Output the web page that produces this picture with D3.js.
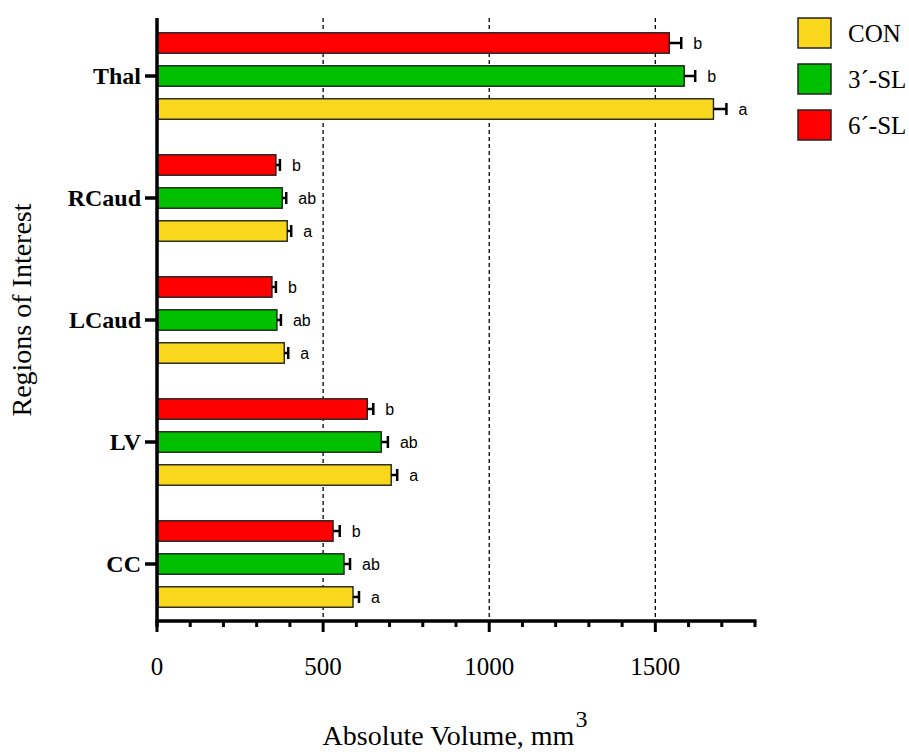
<!DOCTYPE html>
<html>
<head>
<meta charset="utf-8">
<script src="https://cdn.jsdelivr.net/npm/d3@7"></script>
<style>
  body { margin: 0; background: #fff; }
  svg { display: block; }
</style>
</head>
<body>
<svg class="visual" width="909" height="752"></svg>
<script>
// regions, listed bottom to top as on the chart
const REGIONS = ['CC', 'LV', 'LCaud', 'RCaud', 'Thal'];
// series in the order they appear inside a group, top to bottom
const SERIES = ['6´-SL', '3´-SL', 'CON'];
const LEGEND_ORDER = ['CON', '3´-SL', '6´-SL'];
const COLORS = ['#ff0000', '#00c000', '#f9d71c'];

const CON_VALUES = [590, 705, 383, 392, 1675];
const CON_ERRORS = [18, 18, 12, 12, 39];
const SL3_VALUES = [563, 675, 361, 377, 1587];
const SL3_ERRORS = [18, 20, 12, 12, 33];
const SL6_VALUES = [530, 633, 346, 358, 1542];
const SL6_ERRORS = [20, 18, 12, 12, 36];

const CON_LETTERS = ['a', 'a', 'a', 'a', 'a'];
const SL3_LETTERS = ['ab', 'ab', 'ab', 'ab', 'b'];
const SL6_LETTERS = ['b', 'b', 'b', 'b', 'b'];

const X_TICKS = [0, 500, 1000, 1500];
const X_MINOR = d3.range(0, 1801, 100);
const GRID = [500, 1000, 1500];

const valuesBySeries = {
    'CON': { v: CON_VALUES, e: CON_ERRORS, l: CON_LETTERS },
    '3´-SL': { v: SL3_VALUES, e: SL3_ERRORS, l: SL3_LETTERS },
    '6´-SL': { v: SL6_VALUES, e: SL6_ERRORS, l: SL6_LETTERS },
};

const rows = [];
REGIONS.forEach((region, i) => {
    SERIES.forEach(s => {
        const d = valuesBySeries[s];
        rows.push({ region: region, series: s, value: d.v[i], err: d.e[i], letter: d.l[i] });
    });
});

const svg = d3.select('svg');
const plotLeft = 157, plotRight = 755, plotTop = 15, plotBottom = 623;

const x = d3.scaleLinear().domain([0, 1800]).range([plotLeft, plotRight]);
const y = d3.scaleBand().domain(REGIONS).range([plotBottom + 2, plotTop]);
const inner = d3.scaleBand().domain(SERIES).range([-49.5, 49.5]).paddingInner(0.38).paddingOuter(0.19);
const color = d3.scaleOrdinal().domain(SERIES).range(COLORS);

const serif = "'Liberation Serif', 'Times New Roman', serif";
const sans = "'Liberation Sans', Arial, sans-serif";

// dashed reference lines
svg.append('g')
    .selectAll('line')
    .data(GRID)
    .join('line')
    .attr('x1', d => x(d)).attr('x2', d => x(d))
    .attr('y1', plotTop + 3).attr('y2', plotBottom)
    .attr('stroke', '#000')
    .attr('stroke-width', 1.3)
    .attr('stroke-dasharray', '4,3');

const yc = r => y(r) + y.bandwidth() / 2;
const barMid = d => yc(d.region) + inner(d.series) + inner.bandwidth() / 2;

// bars
svg.append('g')
    .selectAll('rect')
    .data(rows)
    .join('rect')
    .attr('x', x(0) + 1)
    .attr('y', d => yc(d.region) + inner(d.series))
    .attr('width', d => x(d.value) - x(0) - 1)
    .attr('height', inner.bandwidth())
    .attr('fill', d => color(d.series))
    .attr('stroke', '#222')
    .attr('stroke-width', 1.4);

// error bars (one-sided)
const errs = svg.append('g').attr('stroke', '#000').attr('stroke-width', 2.5);
errs.selectAll('line.stem')
    .data(rows)
    .join('line')
    .attr('class', 'stem')
    .attr('x1', d => x(d.value)).attr('x2', d => x(d.value + d.err))
    .attr('y1', barMid)
    .attr('y2', barMid);
errs.selectAll('line.cap')
    .data(rows)
    .join('line')
    .attr('class', 'cap')
    .attr('x1', d => x(d.value + d.err)).attr('x2', d => x(d.value + d.err))
    .attr('y1', d => barMid(d) - 6)
    .attr('y2', d => barMid(d) + 6);

// significance letters
svg.append('g')
    .selectAll('text')
    .data(rows)
    .join('text')
    .attr('x', d => x(d.value + d.err) + 12)
    .attr('y', barMid)
    .attr('dy', '0.35em')
    .attr('font-family', sans)
    .attr('font-size', 16)
    .text(d => d.letter);

// x axis
const xAxis = svg.append('g');
xAxis.append('line')
    .attr('x1', plotLeft - 1.5).attr('x2', plotRight + 1.5)
    .attr('y1', plotBottom - 2).attr('y2', plotBottom - 2)
    .attr('stroke', '#000').attr('stroke-width', 3.5);
xAxis.selectAll('line.minor')
    .data(X_MINOR)
    .join('line')
    .attr('class', 'minor')
    .attr('x1', d => x(d)).attr('x2', d => x(d))
    .attr('y1', plotBottom - 2).attr('y2', d => X_TICKS.includes(d) ? plotBottom + 9 : plotBottom + 4)
    .attr('stroke', '#000').attr('stroke-width', 3);
xAxis.selectAll('text')
    .data(X_TICKS)
    .join('text')
    .attr('x', d => x(d))
    .attr('y', 675)
    .attr('text-anchor', 'middle')
    .attr('font-family', serif)
    .attr('font-size', 25)
    .text(d => d);

// y axis
const yAxis = svg.append('g');
yAxis.append('line')
    .attr('x1', plotLeft).attr('x2', plotLeft)
    .attr('y1', plotTop + 3).attr('y2', plotBottom + 4)
    .attr('stroke', '#000').attr('stroke-width', 3.5);
yAxis.selectAll('line.tick')
    .data(REGIONS)
    .join('line')
    .attr('class', 'tick')
    .attr('x1', plotLeft - 12).attr('x2', plotLeft)
    .attr('y1', d => yc(d)).attr('y2', d => yc(d))
    .attr('stroke', '#000').attr('stroke-width', 3.5);
yAxis.selectAll('text')
    .data(REGIONS)
    .join('text')
    .attr('x', plotLeft - 16)
    .attr('y', d => yc(d))
    .attr('dy', '0.35em')
    .attr('text-anchor', 'end')
    .attr('font-family', serif)
    .attr('font-weight', 'bold')
    .attr('font-size', 24)
    .text(d => d);

// axis titles
svg.append('text')
    .attr('transform', 'translate(31,310) rotate(-90)')
    .attr('text-anchor', 'middle')
    .attr('font-family', serif)
    .attr('font-size', 28)
    .text('Regions of Interest');

const xt = svg.append('text')
    .attr('x', 455)
    .attr('y', 745)
    .attr('text-anchor', 'middle')
    .attr('font-family', serif)
    .attr('font-size', 28);
xt.append('tspan').text('Absolute Volume, mm');
xt.append('tspan').attr('dy', -18).attr('dx', 1).attr('font-size', 24).text('3');

// legend
const legend = svg.append('g')
    .selectAll('g')
    .data(LEGEND_ORDER)
    .join('g')
    .attr('transform', (d, i) => `translate(798,${18 + i * 46})`);
legend.append('rect')
    .attr('width', 33).attr('height', 30)
    .attr('fill', d => color(d))
    .attr('stroke', '#222').attr('stroke-width', 1.5);
legend.append('text')
    .attr('x', 50).attr('y', 15)
    .attr('dy', '0.35em')
    .attr('font-family', serif)
    .attr('font-size', 25)
    .text(d => d);
</script>
</body>
</html>
